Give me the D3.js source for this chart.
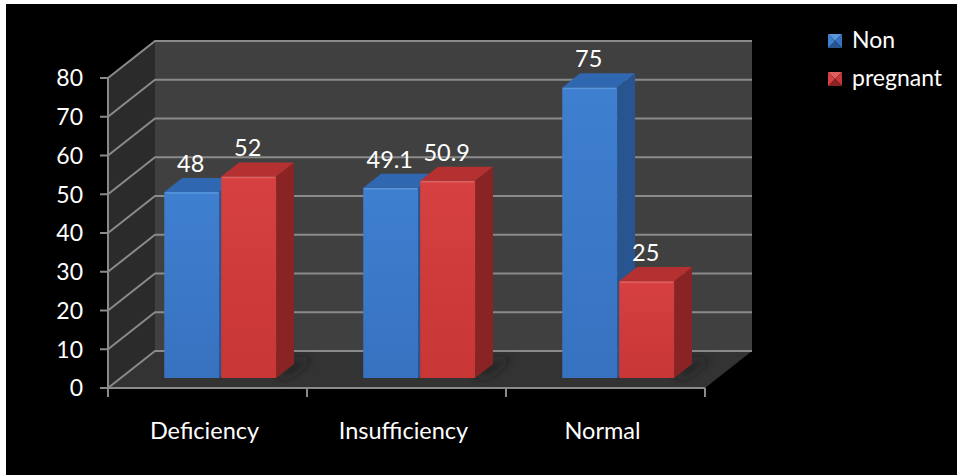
<!DOCTYPE html>
<html><head><meta charset="utf-8">
<script src="https://cdn.jsdelivr.net/npm/d3@7"></script>
<style>html,body{margin:0;padding:0;background:#fff;} svg{display:block;}</style>
</head><body><svg id="chart" width="957" height="475"></svg>
<script>
const categories = ["Deficiency", "Insufficiency", "Normal"];
const seriesNames = ["Non", "pregnant"];
const nonValues = [48, 49.1, 75];
const pregnantValues = [52, 50.9, 25];
const yTicks = [0, 10, 20, 30, 40, 50, 60, 70, 80];

const W = 957, H = 475;
const FONT = "Lato, 'Open Sans', sans-serif";
const svg = d3.select("#chart");

svg.append("rect").attr("x", 6).attr("y", 4).attr("width", W - 6).attr("height", H - 4).attr("fill", "#000");

const defs = svg.append("defs");
defs.append("filter").attr("id", "soft").attr("x", "-50%").attr("y", "-50%").attr("width", "200%").attr("height", "200%")
  .append("feGaussianBlur").attr("stdDeviation", 5);

const palette = {
  Non: {front: ["#3f7fd0", "#3772c0"], top: "#2f67b0", side: "#28548f", hi: "#5a95dc"},
  pregnant: {front: ["#d64040", "#c83636"], top: "#b53030", side: "#8a2424", hi: "#e06060"}
};
seriesNames.forEach(s => {
  const g = defs.append("linearGradient").attr("id", "fg-" + s).attr("x1", 0).attr("y1", 0).attr("x2", 0).attr("y2", 1);
  g.append("stop").attr("offset", 0).attr("stop-color", palette[s].front[0]);
  g.append("stop").attr("offset", 1).attr("stop-color", palette[s].front[1]);
});

// front plane of the 3D box and the depth offset of the back wall
const box = {left: 108, right: 705, bottom: 388, top: 78};
const DX = 47, DY = 37;
const y = d3.scaleLinear().domain([0, 80]).range([box.bottom, box.top]);
const x0 = d3.scaleBand().domain(categories).range([box.left, box.right]);
const x1 = d3.scaleBand().domain(seriesNames).range([0, x0.bandwidth()]).paddingInner(0.035).paddingOuter(0.765);
const P = (xf, v, z) => [xf + z * DX, y(v) - z * DY];
const poly = pts => pts.map(p => p.join(",")).join(" ");

const gridColor = "#8a8a8a";

// walls and floor
svg.append("polygon").attr("points", poly([P(box.left, 0, 0), P(box.left, 80, 0), P(box.left, 80, 1), P(box.left, 0, 1)])).attr("fill", "#2b2b2b");
svg.append("polygon").attr("points", poly([P(box.left, 0, 1), P(box.left, 80, 1), P(box.right, 80, 1), P(box.right, 0, 1)])).attr("fill", "#404040");
svg.append("polygon").attr("points", poly([P(box.left, 0, 0), P(box.right, 0, 0), P(box.right, 0, 1), P(box.left, 0, 1)])).attr("fill", "#333333");

// gridlines across side wall and back wall
svg.append("g").selectAll("polyline").data(yTicks).join("polyline")
  .attr("points", v => poly([P(box.left, v, 0), P(box.left, v, 1), P(box.right, v, 1)]))
  .attr("fill", "none").attr("stroke", gridColor).attr("stroke-width", 2);

// shadows cast on the floor
const rows = [];
categories.forEach((c, i) => {
  rows.push({c, s: "Non", v: nonValues[i]});
  rows.push({c, s: "pregnant", v: pregnantValues[i]});
});
const z0 = 0.27, z1 = 0.65;
svg.append("g").attr("filter", "url(#soft)").selectAll("polygon").data(rows.filter(d => d.s === "pregnant")).join("polygon")
  .attr("points", d => {
    const xf = x0(d.c) + x1(d.s) + x1.bandwidth();
    return poly([P(xf - 4, 0, z0 + 0.02), P(xf + 12, 0, z0 + 0.05), P(xf + 12, 0, z1 + 0.15), P(xf - 4, 0, z1 + 0.1)]);
  })
  .attr("fill", "#1a1a1a").attr("opacity", 0.6);

// axes
svg.append("line").attr("x1", box.left).attr("x2", box.left).attr("y1", y(80)).attr("y2", y(0)).attr("stroke", gridColor).attr("stroke-width", 2);
svg.append("line").attr("x1", box.left - 8).attr("x2", box.right).attr("y1", y(0)).attr("y2", y(0)).attr("stroke", gridColor).attr("stroke-width", 2);
svg.append("g").selectAll("line").data(yTicks).join("line")
  .attr("x1", box.left - 8).attr("x2", box.left).attr("y1", v => y(v)).attr("y2", v => y(v))
  .attr("stroke", gridColor).attr("stroke-width", 2);
const catEdges = categories.map(c => x0(c)).concat([box.right]);
svg.append("g").selectAll("line").data(catEdges).join("line")
  .attr("x1", d => d).attr("x2", d => d).attr("y1", y(0)).attr("y2", y(0) + 9)
  .attr("stroke", gridColor).attr("stroke-width", 2);

svg.append("g").selectAll("text").data(yTicks).join("text")
  .attr("x", box.left - 25).attr("y", v => y(v)).attr("dy", "0.36em")
  .attr("text-anchor", "end").attr("fill", "#fff").attr("font-family", FONT).attr("font-size", 23)
  .text(v => v);
svg.append("g").selectAll("text").data(categories).join("text")
  .attr("x", c => x0(c) + x0.bandwidth() / 2 - 3).attr("y", 439)
  .attr("text-anchor", "middle").attr("fill", "#fff").attr("font-family", FONT).attr("font-size", 23.5)
  .text(c => c);

// bars
const bars = svg.append("g").selectAll("g").data(rows).join("g");
bars.append("polygon").attr("points", d => {
  const xf = x0(d.c) + x1(d.s), w = x1.bandwidth();
  return poly([P(xf + w, 0, z0), P(xf + w, d.v, z0), P(xf + w, d.v, z1), P(xf + w, 0, z1)]);
}).attr("fill", d => palette[d.s].side);
bars.append("polygon").attr("points", d => {
  const xf = x0(d.c) + x1(d.s), w = x1.bandwidth();
  return poly([P(xf, d.v, z0), P(xf + w, d.v, z0), P(xf + w, d.v, z1), P(xf, d.v, z1)]);
}).attr("fill", d => palette[d.s].top);
bars.append("polygon").attr("points", d => {
  const xf = x0(d.c) + x1(d.s), w = x1.bandwidth();
  return poly([P(xf, 0, z0), P(xf, d.v, z0), P(xf + w, d.v, z0), P(xf + w, 0, z0)]);
}).attr("fill", d => "url(#fg-" + d.s + ")");
bars.append("line")
  .attr("x1", d => P(x0(d.c) + x1(d.s) + 1, d.v, z0)[0]).attr("x2", d => P(x0(d.c) + x1(d.s) + x1.bandwidth() - 1, d.v, z0)[0])
  .attr("y1", d => P(0, d.v, z0)[1] + 1).attr("y2", d => P(0, d.v, z0)[1] + 1)
  .attr("stroke", d => palette[d.s].hi).attr("stroke-width", 1.5);

// value labels above each bar
svg.append("g").selectAll("text").data(rows).join("text")
  .attr("x", d => P(x0(d.c) + x1(d.s) + x1.bandwidth() / 2, d.v, z0)[0] - 1)
  .attr("y", d => P(0, d.v, z1)[1] - 6)
  .attr("text-anchor", "middle").attr("fill", "#fff").attr("font-family", FONT).attr("font-size", 23.5)
  .text(d => d.v);

// legend
const legend = svg.append("g").selectAll("g").data(seriesNames).join("g")
  .attr("transform", (s, i) => `translate(828,${34 + i * 38})`);
const m = 14;
legend.append("polygon").attr("points", `0,0 ${m},0 ${m / 2},${m / 2}`).attr("fill", s => palette[s].hi);
legend.append("polygon").attr("points", `${m},0 ${m},${m} ${m / 2},${m / 2}`).attr("fill", s => palette[s].front[1]);
legend.append("polygon").attr("points", `0,${m} ${m},${m} ${m / 2},${m / 2}`).attr("fill", s => palette[s].side);
legend.append("polygon").attr("points", `0,0 0,${m} ${m / 2},${m / 2}`).attr("fill", s => palette[s].front[0]);
legend.append("text").attr("x", 24).attr("y", m).attr("fill", "#fff").attr("font-family", FONT).attr("font-size", 23)
  .text(s => s);
</script></body></html>
